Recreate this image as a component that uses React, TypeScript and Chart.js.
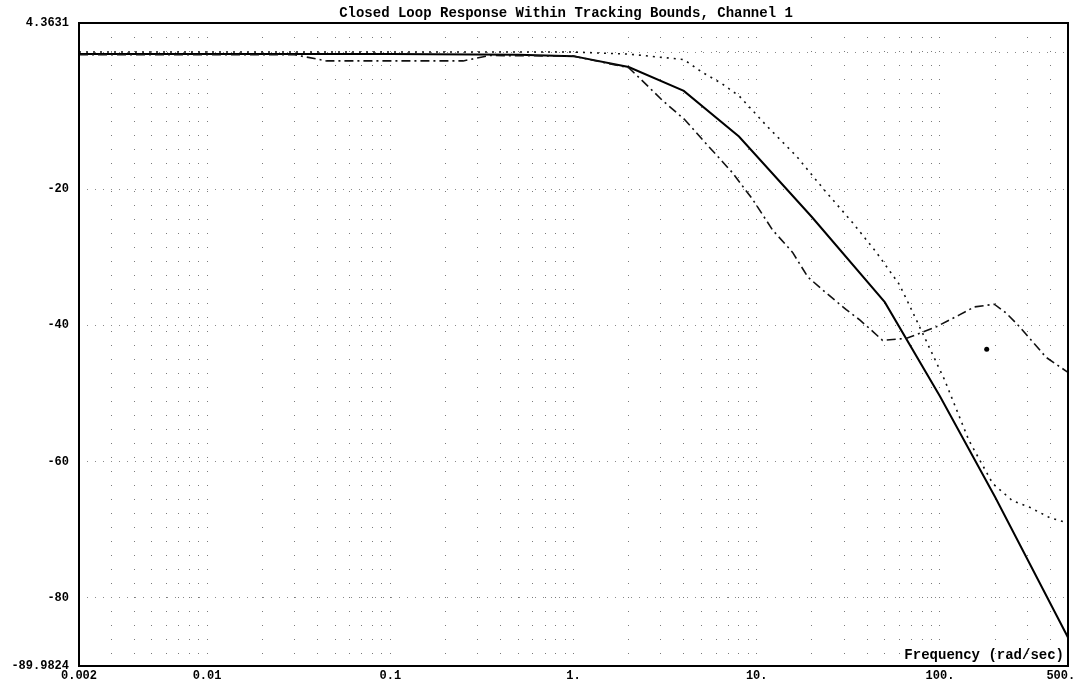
import React, { useEffect, useRef } from "react";
import { Chart, registerables } from "chart.js";

Chart.register(...registerables);

const TITLE = "Closed Loop Response Within Tracking Bounds, Channel 1";
const X_AXIS_TEXT = "Frequency (rad/sec)";

const X_MIN = 0.002;
const X_MAX = 500;
const Y_MIN = -89.9824;
const Y_MAX = 4.3631;

const xLabelValues = [0.002, 0.01, 0.1, 1, 10, 100, 500];
const xLabelTexts = ["0.002", "0.01", "0.1", "1.", "10.", "100.", "500.  "];
const yLabelValues = [-89.9824, -80, -60, -40, -20, 4.3631];
const yLabelTexts = ["-89.9824", "-80", "-60", "-40", "-20", "4.3631"];

const xGridDecades = [0.001, 0.01, 0.1, 1, 10, 100];
const xGridMultiples = [1, 2, 3, 4, 5, 6, 7, 8, 9];
const yGridValues = [-80, -60, -40, -20, 0];

// Closed loop response (solid)
const freqResponse = [0.002, 0.01, 0.1, 0.5, 1, 2, 4, 8, 20, 50, 100, 200, 500];
const magResponse = [-0.2, -0.2, -0.2, -0.3, -0.5, -2.1, -5.6, -12.3, -24.1, -36.6, -50.4, -65.2, -85.8];

// Upper tracking bound (dotted)
const freqUpper = [0.002, 1, 2, 4, 5.06, 6.43, 8.06, 11.4, 16.5, 24, 33.3, 45, 60, 68, 106, 144, 194, 248, 309, 396, 500];
const magUpper = [0.1, 0.1, -0.2, -1.0, -2.9, -4.5, -6.4, -10.8, -15.2, -20.5, -24.9, -29.3, -34, -37, -48, -56.9, -63.2, -65.7, -66.7, -68.2, -69];

// Lower tracking bound (dash-dot)
const freqLower = [0.002, 0.03, 0.045, 0.25, 0.35, 1, 2, 2.23, 3.06, 4.04, 5.32, 7.37, 9.49, 12.2, 15.7, 19, 22.9, 30.8, 36.5, 42.2, 48.6, 65.8, 95.7, 127, 154, 198, 230, 272, 380, 500];
const magLower = [-0.3, -0.3, -1.2, -1.2, -0.4, -0.5, -2.2, -3.4, -7.0, -9.8, -13.4, -17.6, -21.5, -26, -29.3, -32.9, -34.8, -37.7, -39.2, -40.7, -42.2, -41.9, -40.2, -38.5, -37.3, -36.9, -38.2, -40.2, -44.7, -46.9];

// Isolated mark
const freqMark = [180];
const magMark = [-43.5];

const MONO = "'Liberation Mono', 'DejaVu Sans Mono', monospace";

function pts(xs: number[], ys: number[]) {
  return xs.map((x, i) => ({ x, y: ys[i] }));
}

const frame = {
  id: "frame",
  afterDatasetsDraw(chart: any) {
    const { ctx, chartArea } = chart;
    ctx.save();
    ctx.strokeStyle = "#000";
    ctx.lineWidth = 2;
    ctx.strokeRect(chartArea.left, chartArea.top, chartArea.right - chartArea.left, chartArea.bottom - chartArea.top);
    ctx.fillStyle = "#000";
    ctx.font = `bold 14px ${MONO}`;
    ctx.textAlign = "center";
    ctx.textBaseline = "middle";
    ctx.fillText(TITLE, 566, 13);
    ctx.textAlign = "right";
    ctx.fillText(X_AXIS_TEXT, chartArea.right - 4, chartArea.bottom - 11);
    ctx.restore();
  },
};

export default function App() {
  const ref = useRef<HTMLCanvasElement | null>(null);

  useEffect(() => {
    if (!ref.current) return;
    const xGrid: number[] = [];
    xGridDecades.forEach((d) =>
      xGridMultiples.forEach((m) => {
        const v = +(d * m).toPrecision(6);
        if (v >= X_MIN && v <= X_MAX) xGrid.push(v);
      })
    );
    if (!xGrid.includes(X_MAX)) xGrid.push(X_MAX);
    const yTicks = [Y_MIN, ...yGridValues, Y_MAX];

    const near = (a: number, b: number) => Math.abs(a - b) < 1e-6 * Math.max(1, Math.abs(b));

    const chart = new Chart(ref.current, {
      type: "line",
      data: {
        datasets: [
          {
            data: pts(freqLower, magLower),
            borderColor: "#111",
            borderWidth: 1.6,
            borderDash: [9, 4, 2, 4],
            pointRadius: 0,
            tension: 0,
          },
          {
            data: pts(freqUpper, magUpper),
            borderColor: "#111",
            borderWidth: 1.6,
            borderDash: [2, 5],
            pointRadius: 0,
            tension: 0,
          },
          {
            data: pts(freqResponse, magResponse),
            borderColor: "#000",
            borderWidth: 2,
            pointRadius: 0,
            tension: 0,
          },
          {
            data: pts(freqMark, magMark),
            showLine: false,
            pointRadius: 2.5,
            pointBackgroundColor: "#000",
            pointBorderWidth: 0,
          },
        ],
      },
      options: {
        animation: false,
        responsive: false,
        devicePixelRatio: 1,
        layout: { padding: { left: 0, right: 14, top: 23, bottom: 0 } },
        plugins: {
          legend: { display: false },
          tooltip: { enabled: false },
          title: { display: false },
        },
        scales: {
          x: {
            type: "logarithmic",
            min: X_MIN,
            max: X_MAX,
            afterBuildTicks: (s: any) => {
              s.ticks = xGrid.map((v) => ({ value: v }));
            },
            afterFit: (s: any) => {
              s.height = 18;
              s.paddingLeft = 0;
              s.paddingRight = 0;
            },
            ticks: {
              autoSkip: false,
              maxRotation: 0,
              padding: 3,
              color: "#000",
              font: { family: MONO, size: 12, weight: "bold" },
              callback: (v: any) => {
                const i = xLabelValues.findIndex((t) => near(Number(v), t));
                return i >= 0 ? xLabelTexts[i] : "";
              },
            },
            grid: {
              drawTicks: false,
              lineWidth: 1,
              color: (c: any) => {
                const v = c.tick ? c.tick.value : 0;
                if (near(v, X_MIN) || near(v, X_MAX)) return "rgba(0,0,0,0)";
                return "#7a7a7a";
              },
            },
            border: { display: false, dash: [1, 13] },
          },
          y: {
            type: "linear",
            min: Y_MIN,
            max: Y_MAX,
            afterBuildTicks: (s: any) => {
              s.ticks = yTicks.map((v) => ({ value: v }));
            },
            afterFit: (s: any) => {
              s.width = 79;
              s.paddingTop = 0;
              s.paddingBottom = 0;
            },
            ticks: {
              autoSkip: false,
              padding: 10,
              color: "#000",
              font: { family: MONO, size: 12, weight: "bold" },
              callback: (v: any) => {
                const i = yLabelValues.findIndex((t) => near(Number(v), t));
                return i >= 0 ? yLabelTexts[i] : "";
              },
            },
            grid: {
              drawTicks: false,
              lineWidth: 1,
              color: (c: any) => {
                const v = c.tick ? c.tick.value : 0;
                if (near(v, Y_MIN) || near(v, Y_MAX)) return "rgba(0,0,0,0)";
                return "#8a8a8a";
              },
            },
            border: { display: false, dash: [1, 7] },
          },
        },
      },
      plugins: [frame],
    } as any);
    return () => chart.destroy();
  }, []);

  return (
    <div style={{ position: "fixed", left: 0, top: 0, width: 1082, height: 684, background: "#fff" }}>
      <canvas ref={ref} width={1082} height={684} style={{ display: "block", width: 1082, height: 684 }} />
    </div>
  );
}
